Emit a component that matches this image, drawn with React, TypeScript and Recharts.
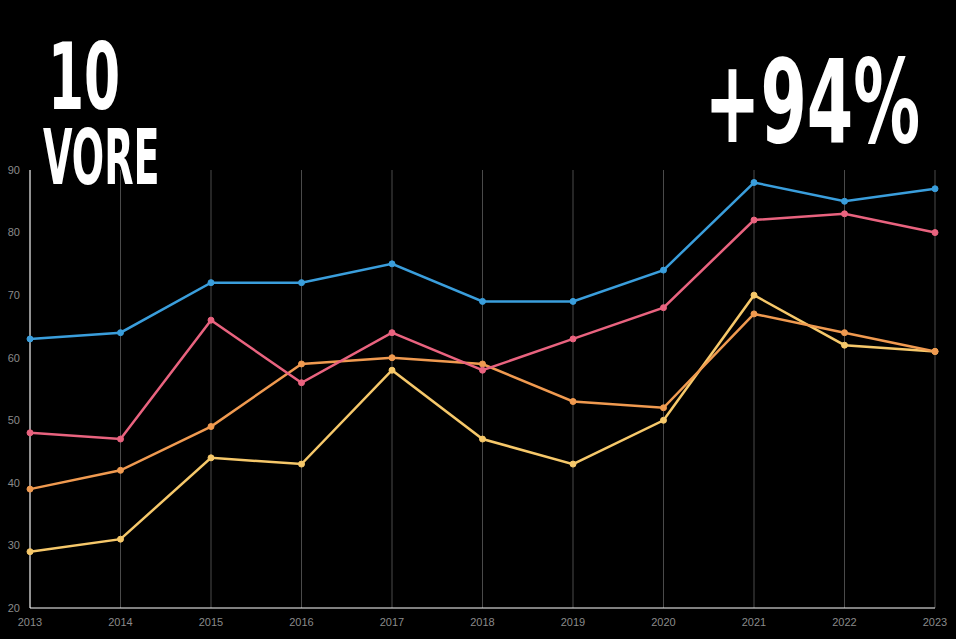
import React from "react";
import { LineChart, Line, XAxis, YAxis, CartesianGrid } from "recharts";

const years = ["2013", "2014", "2015", "2016", "2017", "2018", "2019", "2020", "2021", "2022", "2023"];
const blueValues = [63, 64, 72, 72, 75, 69, 69, 74, 88, 85, 87];
const pinkValues = [48, 47, 66, 56, 64, 58, 63, 68, 82, 83, 80];
const orangeValues = [39, 42, 49, 59, 60, 59, 53, 52, 67, 64, 61];
const yellowValues = [29, 31, 44, 43, 58, 47, 43, 50, 70, 62, 61];
const yTicks = [20, 30, 40, 50, 60, 70, 80, 90];

const data = years.map((y, i) => ({
  year: y,
  blue: blueValues[i],
  pink: pinkValues[i],
  orange: orangeValues[i],
  yellow: yellowValues[i],
}));

const series = [
  { key: "yellow", color: "#f6c86a" },
  { key: "orange", color: "#f09a50" },
  { key: "pink", color: "#e9637f" },
  { key: "blue", color: "#3a9edc" },
];

const titleFont = "'Liberation Sans Narrow', 'DejaVu Sans Condensed', 'Liberation Sans', sans-serif";

export default function App() {
  return (
    <div style={{ position: "fixed", left: 0, top: 0, width: 956, height: 639, background: "#000", overflow: "hidden" }}>
      <LineChart width={956} height={639} data={data} margin={{ top: 170, right: 21, left: 0, bottom: 0 }}>
        <CartesianGrid horizontal={false} stroke="#4a4a4a" strokeWidth={1} />
        <XAxis
          dataKey="year"
          height={31}
          tickSize={0}
          tickMargin={10}
          stroke="#ffffff"
          tick={{ fill: "#8a8a8a", fontSize: 11, fontFamily: "'Liberation Sans', Arial, sans-serif" }}
          interval={0}
        />
        <YAxis
          width={30}
          domain={[20, 90]}
          ticks={yTicks}
          tickSize={0}
          tickMargin={10}
          stroke="#ffffff"
          tick={{ fill: "#8a8a8a", fontSize: 11, fontFamily: "'Liberation Sans', Arial, sans-serif" }}
        />
        {series.map((s) => (
          <Line
            key={s.key}
            type="linear"
            dataKey={s.key}
            stroke={s.color}
            strokeWidth={2.5}
            dot={{ r: 3, fill: s.color, stroke: s.color, strokeWidth: 1 }}
            isAnimationActive={false}
          />
        ))}
      </LineChart>
      <div
        style={{
          position: "absolute",
          left: 48,
          top: 41,
          color: "#fff",
          fontFamily: titleFont,
          fontWeight: 700,
          fontSize: 93,
          lineHeight: "72px",
          transform: "scaleX(0.62)",
          transformOrigin: "left top",
          whiteSpace: "nowrap",
        }}
      >
        10
      </div>
      <div
        style={{
          position: "absolute",
          left: 43,
          top: 128,
          color: "#fff",
          fontFamily: titleFont,
          fontWeight: 700,
          fontSize: 77,
          lineHeight: "60px",
          transform: "scaleX(0.55)",
          transformOrigin: "left top",
          whiteSpace: "nowrap",
        }}
      >
        VORE
      </div>
      <div
        style={{
          position: "absolute",
          right: 36,
          top: 42,
          color: "#fff",
          fontFamily: titleFont,
          fontWeight: 700,
          fontSize: 116,
          lineHeight: "120px",
          transform: "scaleX(0.64)",
          transformOrigin: "right top",
          whiteSpace: "nowrap",
        }}
      >
        +94%
      </div>
    </div>
  );
}
